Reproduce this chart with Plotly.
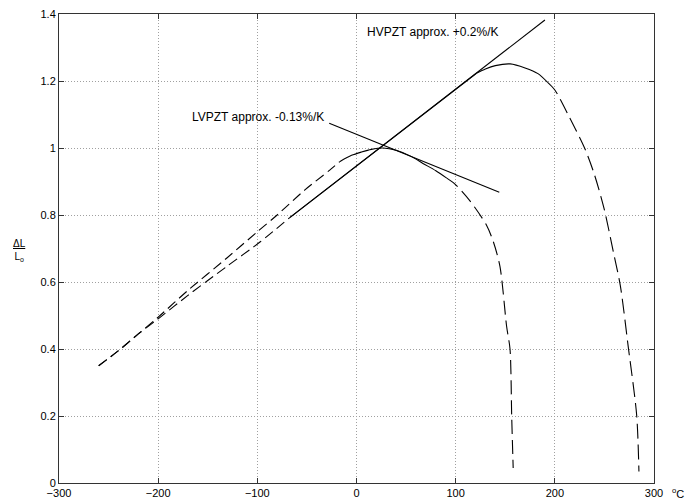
import plotly.graph_objects as go

# LVPZT curve (dashed / solid / dashed)
lv_dash_left_x = [-260, -240, -220, -200, -170, -131, -100, -80, -52, -27, -17]
lv_dash_left_y = [0.35, 0.395, 0.445, 0.495, 0.575, 0.671, 0.75, 0.80, 0.875, 0.934, 0.959]
lv_solid_x = [-17, -5, 5, 15, 27, 40, 55, 67, 80, 91]
lv_solid_y = [0.959, 0.978, 0.988, 0.996, 1.0, 0.993, 0.975, 0.954, 0.932, 0.91]
lv_dash_right_x = [91, 99, 115, 131, 138, 144.7, 151.4, 154.8, 156.5, 158]
lv_dash_right_y = [0.91, 0.893, 0.84, 0.77, 0.72, 0.646, 0.467, 0.40, 0.198, 0.045]

# HVPZT curve
hv_dash_left_x = [-260, -240, -220, -200, -170, -131, -97, -67]
hv_dash_left_y = [0.35, 0.395, 0.445, 0.49, 0.56, 0.646, 0.72, 0.793]
hv_mid_x = [-67, 121]
hv_mid_y = [0.793, 1.223]
hv_solid_x = [121, 130, 140, 155, 170, 183, 193]
hv_solid_y = [1.223, 1.236, 1.246, 1.251, 1.239, 1.222, 1.195]
hv_dash_right_x = [193, 200, 215, 230, 240, 250, 259, 266, 274, 282.5, 284.8]
hv_dash_right_y = [1.195, 1.173, 1.09, 1.0, 0.92, 0.815, 0.69, 0.59, 0.407, 0.203, 0.034]

# Tangent (approximation) lines
hv_tan_x = [-67, 190]
hv_tan_y = [0.793, 1.382]
lv_tan_x = [-27.5, 144]
lv_tan_y = [1.074, 0.868]

x_ticks = [-300, -200, -100, 0, 100, 200, 300]
y_ticks = [0, 0.2, 0.4, 0.6, 0.8, 1, 1.2, 1.4]

fig = go.Figure()

def add(x, y, dash, shape="spline"):
    fig.add_trace(go.Scatter(x=x, y=y, mode="lines",
                             line=dict(color="black", width=1.1, dash=dash,
                                       shape=shape, smoothing=0.8),
                             showlegend=False, hoverinfo="skip"))

add(lv_dash_left_x, lv_dash_left_y, "10px,5px")
add(lv_solid_x, lv_solid_y, "solid")
add(lv_dash_right_x, lv_dash_right_y, "14px,6px")
add(hv_dash_left_x, hv_dash_left_y, "10px,5px")
add(hv_mid_x, hv_mid_y, "solid", "linear")
add(hv_solid_x, hv_solid_y, "solid")
add(hv_dash_right_x, hv_dash_right_y, "15px,6px")
add(hv_tan_x, hv_tan_y, "solid", "linear")
add(lv_tan_x, lv_tan_y, "solid", "linear")

font = dict(family="Liberation Sans, Arial, sans-serif", size=11, color="black")

axis_common = dict(
    showline=True, linecolor="#333333", linewidth=1, mirror="ticks",
    ticks="inside", ticklen=5, tickcolor="#333333",
    showgrid=True, gridcolor="#a0a0a0", gridwidth=1, griddash="1px,2px",
    zeroline=False, tickfont=font,
)

fig.update_xaxes(range=[-300, 300], tickvals=x_ticks, **axis_common)
fig.update_yaxes(range=[0, 1.4], tickvals=y_ticks, **axis_common)

fig.add_annotation(x=8.6, y=1.346, text="HVPZT approx. +0.2%/K", showarrow=False,
                   xanchor="left", yanchor="middle", font=dict(font, size=12))
fig.add_annotation(x=-168, y=1.093, text="LVPZT approx. -0.13%/K", showarrow=False,
                   xanchor="left", yanchor="middle", font=dict(font, size=12))
fig.add_annotation(xref="paper", yref="paper", x=-0.066, y=0.495,
                   text="<u>ΔL</u><br>L<sub>o</sub>", showarrow=False,
                   xanchor="center", yanchor="middle", textangle=0,
                   font=dict(font, size=10))
fig.add_annotation(xref="paper", yref="paper", x=1.0, y=0, yshift=-10, xshift=16,
                   text="<sup>o</sup>C", showarrow=False,
                   xanchor="left", yanchor="middle", font=dict(font, size=11))

fig.update_layout(
    width=689, height=501,
    margin=dict(l=59, r=35, t=14, b=18, autoexpand=False),
    paper_bgcolor="white", plot_bgcolor="white",
    font=font,
)

fig.write_html("out.html")
